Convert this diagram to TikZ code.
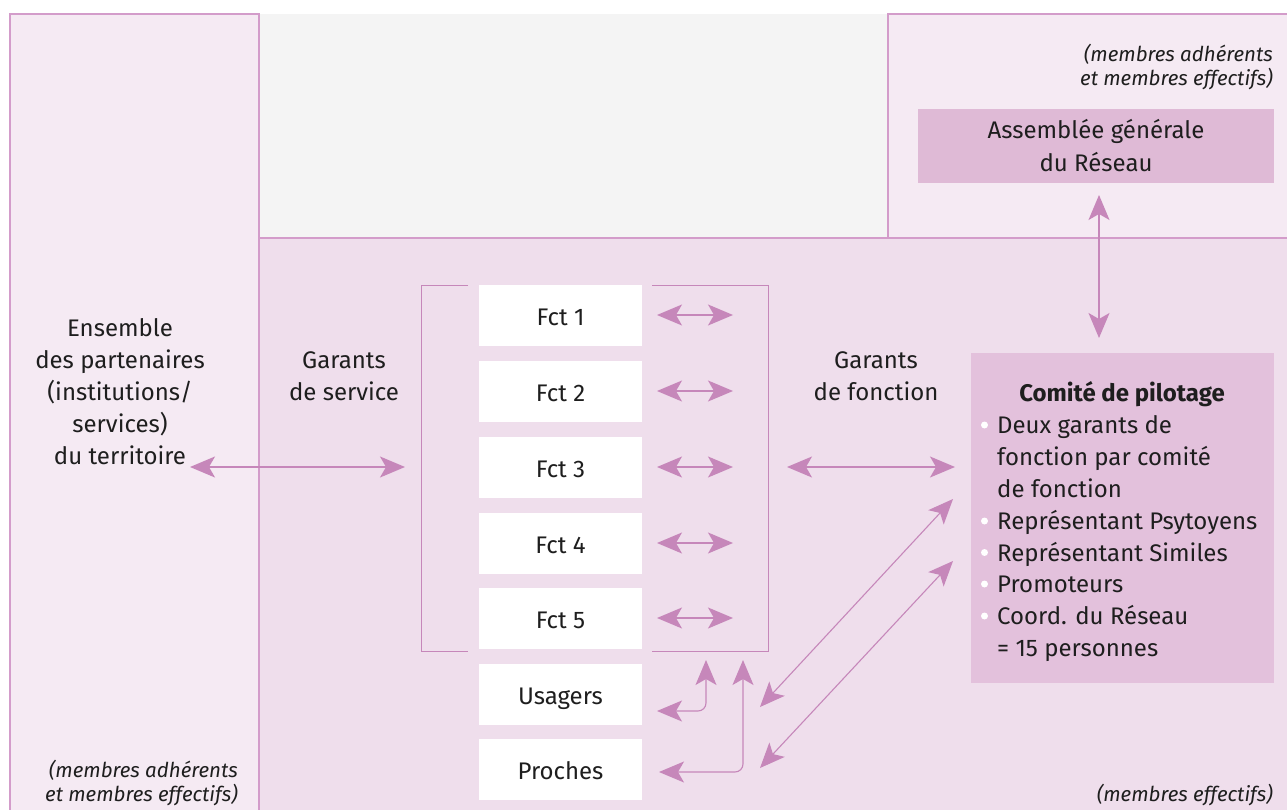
\documentclass[tikz,border=0pt]{standalone}
\usepackage{fontspec}
\setmainfont{Fira Sans}
\usetikzlibrary{arrows.meta}
\definecolor{bord}{HTML}{D39CCA}
\definecolor{arrcol}{HTML}{C687BA}
\definecolor{lightbg}{HTML}{F5EAF3}
\definecolor{mainbg}{HTML}{EFDEEC}
\definecolor{graybg}{HTML}{F4F4F4}
\definecolor{agbox}{HTML}{DFBAD6}
\definecolor{copbox}{HTML}{E3C1DC}
\definecolor{txt}{HTML}{1E1E1E}
\tikzset{
  bigtip/.tip={Stealth[length=25pt,width=21pt,inset=6pt]},
  arr/.style={draw=arrcol, line width=1.5pt, bigtip-bigtip},
  thinarr/.style={draw=arrcol, line width=1.1pt, bigtip-bigtip},
  fct/.style={fill=white, minimum width=163pt, minimum height=61pt, inner sep=0pt, text=txt, text height=20pt, text depth=0pt},
  lbl/.style={text=txt, align=center, inner sep=0pt},
  itl/.style={text=txt, align=right, inner sep=0pt, font=\fontsize{20.5}{23.5}\selectfont\itshape},
  cline/.style={text=txt, anchor=base west, inner sep=0pt},
  bul/.style={circle, fill=white, minimum size=7pt, inner sep=0pt},
  brk/.style={draw=arrcol, line width=1pt}
}
\begin{document}
\begin{tikzpicture}[x=1pt,y=-1pt, font=\fontsize{24}{32}\selectfont]
\useasboundingbox (0,0) rectangle (1287,810);
\fill[white] (0,0) rectangle (1287,810);
% backgrounds
\fill[graybg] (259,14) rectangle (888,238);
\fill[mainbg] (259,238) rectangle (1287,810);
\fill[lightbg] (10,14) rectangle (259,810);
\fill[lightbg] (888,14) rectangle (1287,238);
\draw[bord, line width=1.2pt] (10,810) -- (10,14) -- (259,14) -- (259,810);
\draw[bord, line width=1.2pt] (888,238) -- (888,14) -- (1287,14);
\draw[bord, line width=1.2pt] (259,238) -- (1287,238);

% top right
\node[itl, anchor=north east] (trnote) at (1273,44) {(membres adhérents\\et membres effectifs)};
\node[fill=agbox, minimum width=356pt, minimum height=74pt, inner sep=0pt, text=txt, align=center,
      font=\fontsize{24}{33}\selectfont] (ag) at (1096,146) {Assemblée générale\\du Réseau};

% comite box
\node[fill=copbox, minimum width=303pt, minimum height=330pt, inner sep=0pt] (cop) at (1122.5,518) {};
\node[text=txt, anchor=base, inner sep=0pt, font=\fontsize{24}{30}\selectfont\bfseries] (coptitle) at (1122,401) {Comité de pilotage};
\node[cline] (c1) at (997,433) {Deux garants de};
\node[cline] (c2) at (997,465) {fonction par comité};
\node[cline] (c3) at (997,497) {de fonction};
\node[cline] (c4) at (997,529) {Représentant Psytoyens};
\node[cline] (c5) at (997,561) {Représentant Similes};
\node[cline] (c6) at (997,592) {Promoteurs};
\node[cline] (c7) at (997,624) {Coord. du Réseau};
\node[cline] (c8) at (997,656) {= 15 personnes};
\node[bul] (b1) at (984.5,425) {};
\node[bul] (b4) at (984.5,521) {};
\node[bul] (b5) at (984.5,552.5) {};
\node[bul] (b6) at (984.5,584) {};
\node[bul] (b7) at (984.5,616) {};

% vertical arrow AG <-> comite
\coordinate (agb) at (1099,195);
\coordinate (copt) at (1099,338);
\draw[arr] (agb) -- (copt);

% left text
\node[lbl] (ens) at (120,392) {Ensemble\\des partenaires\\(institutions/\\services)\\du territoire};
\node[itl, anchor=south east] (blnote) at (238,806) {(membres adhérents\\et membres effectifs)};
\node[itl, anchor=south east] (brnote) at (1273,806) {(membres effectifs)};

\node[lbl] (gs) at (344,376) {Garants\\de service};
\node[lbl] (gf) at (876,376) {Garants\\de fonction};

% fct boxes
\node[fct] (f1) at (560.5,315.5) {Fct 1};
\node[fct] (f2) at (560.5,391.5) {Fct 2};
\node[fct] (f3) at (560.5,467) {Fct 3};
\node[fct] (f4) at (560.5,543) {Fct 4};
\node[fct] (f5) at (560.5,618.5) {Fct 5};
\node[fct] (us) at (560.5,694) {Usagers};
\node[fct] (pr) at (560.5,769) {Proches};

% brackets
\draw[brk] (468,285) -- (421,285) -- (421,651) -- (468,651);
\draw[brk] (652,285) -- (768,285) -- (768,651) -- (652,651);

% short arrows
\foreach \n/\yy in {1/315,2/391,3/467,4/543,5/618}{
  \coordinate (sa\n) at (657,\yy);
  \coordinate (sb\n) at (733,\yy);
  \draw[arr] (sa\n) -- (sb\n);
}

% main horizontal arrows
\coordinate (la) at (190,467);
\coordinate (lb) at (405,467);
\draw[arr] (la) -- (lb);
\coordinate (ra) at (787,467);
\coordinate (rb) at (955,467);
\draw[arr] (ra) -- (rb);

% usagers / proches
\coordinate (ua) at (657,711);
\coordinate (uc) at (706,711);
\coordinate (ub) at (706,660);
\draw[thinarr, rounded corners=8pt] (ua) -- (uc) -- (ub);
\coordinate (pa) at (659,772);
\coordinate (pc) at (743,772);
\coordinate (pb) at (743,660);
\draw[thinarr, rounded corners=8pt] (pa) -- (pc) -- (pb);

% diagonals
\coordinate (d1a) at (760,707);
\coordinate (d1b) at (953,499);
\draw[thinarr] (d1a) -- (d1b);
\coordinate (d2a) at (760,768);
\coordinate (d2b) at (953,561);
\draw[thinarr] (d2a) -- (d2b);
\end{tikzpicture}
\end{document}
